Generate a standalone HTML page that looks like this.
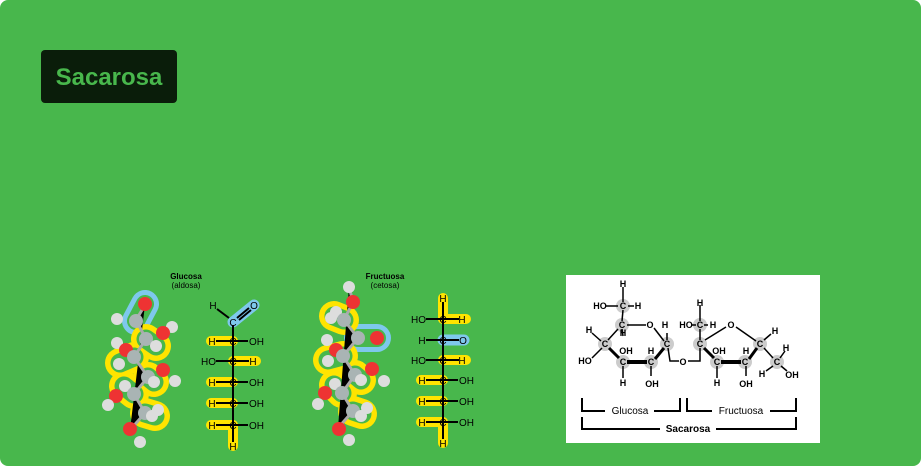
<!DOCTYPE html>
<html><head><meta charset="utf-8"><style>
html,body{margin:0;padding:0;background:#fff;}
body{width:921px;height:466px;overflow:hidden;font-family:"Liberation Sans",sans-serif;}
</style></head><body>
<svg width="921" height="466" viewBox="0 0 921 466" xmlns="http://www.w3.org/2000/svg" font-family="Liberation Sans, sans-serif">
<rect x="0" y="0" width="921" height="466" rx="8" fill="#48b74c"/>
<rect x="41" y="50" width="136" height="53" rx="4" fill="#0a1d0a"/>
<text x="109" y="85" text-anchor="middle" font-size="24" font-weight="bold" fill="#48b74c">Sacarosa</text>

<text x="186" y="279" text-anchor="middle" font-size="8" font-weight="bold" fill="#000">Glucosa</text>
<text x="186" y="288" text-anchor="middle" font-size="8" fill="#000">(aldosa)</text>
<text x="385" y="279" text-anchor="middle" font-size="8" font-weight="bold" fill="#000">Fructuosa</text>
<text x="385" y="288" text-anchor="middle" font-size="8" fill="#000">(cetosa)</text>

<!-- Glucose ball-stick -->
<g>
<g fill="none" stroke-linecap="round">
<line x1="145" y1="304" x2="136" y2="321" stroke="#7ec8ec" stroke-width="28"/>
<line x1="145" y1="304" x2="136" y2="321" stroke="#48b74c" stroke-width="18"/>
<g stroke="#ffe400" stroke-width="30">
<line x1="146" y1="339" x2="156" y2="346"/><line x1="134" y1="357" x2="120" y2="363"/>
<line x1="148" y1="377" x2="154" y2="382"/><line x1="134" y1="394" x2="124" y2="386"/>
<line x1="145" y1="413" x2="155" y2="416"/>
</g>
<g stroke="#48b74c" stroke-width="19">
<line x1="146" y1="339" x2="156" y2="346"/><line x1="134" y1="357" x2="120" y2="363"/>
<line x1="148" y1="377" x2="154" y2="382"/><line x1="134" y1="394" x2="124" y2="386"/>
<line x1="145" y1="413" x2="155" y2="416"/>
</g>
</g>
<g stroke="#aaa" stroke-width="3"><path d="M145 305 L136 320 L146 339 L134 357 L148 377 L134 394 L145 413 L130 430"/></g>
<circle cx="117" cy="319" r="6" fill="#ddd"/>
<circle cx="145" cy="304" r="7" fill="#ee3333"/>
<circle cx="136" cy="321" r="7" fill="#a9b4b4"/>
<circle cx="172" cy="327" r="6" fill="#ddd"/><circle cx="163" cy="333" r="7" fill="#ee3333"/>
<circle cx="117" cy="343" r="6" fill="#ddd"/><circle cx="126" cy="350" r="7" fill="#ee3333"/>
<circle cx="146" cy="339" r="7" fill="#a9b4b4"/><circle cx="156" cy="346" r="6" fill="#ddd"/>
<circle cx="134" cy="357" r="7" fill="#a9b4b4"/><circle cx="119" cy="364" r="6" fill="#ddd"/>
<circle cx="163" cy="370" r="7" fill="#ee3333"/><circle cx="175" cy="381" r="6" fill="#ddd"/>
<circle cx="148" cy="377" r="7" fill="#a9b4b4"/><circle cx="154" cy="382" r="6" fill="#ddd"/>
<circle cx="125" cy="386" r="6" fill="#ddd"/><circle cx="134" cy="394" r="7" fill="#a9b4b4"/>
<circle cx="116" cy="396" r="7" fill="#ee3333"/><circle cx="108" cy="405" r="6" fill="#ddd"/>
<circle cx="158" cy="410" r="6" fill="#ddd"/><circle cx="145" cy="413" r="7" fill="#a9b4b4"/><circle cx="152" cy="416" r="6" fill="#ddd"/>
<circle cx="130" cy="429" r="7" fill="#ee3333"/><circle cx="140" cy="442" r="6" fill="#ddd"/>
</g>

<!-- Fructose ball-stick -->
<g>
<g fill="none" stroke-linecap="round">
<line x1="358" y1="338" x2="377" y2="338" stroke="#7ec8ec" stroke-width="28"/>
<line x1="358" y1="338" x2="377" y2="338" stroke="#48b74c" stroke-width="18"/>
<g stroke="#ffe400" stroke-width="30">
<line x1="344" y1="320" x2="334" y2="316"/><line x1="343" y1="356" x2="328" y2="360"/>
<line x1="355" y1="375" x2="361" y2="380"/><line x1="342" y1="393" x2="334" y2="385"/>
<line x1="353" y1="411" x2="362" y2="414"/>
</g>
<g stroke="#48b74c" stroke-width="19">
<line x1="344" y1="320" x2="334" y2="316"/><line x1="343" y1="356" x2="328" y2="360"/>
<line x1="355" y1="375" x2="361" y2="380"/><line x1="342" y1="393" x2="334" y2="385"/>
<line x1="353" y1="411" x2="362" y2="414"/>
</g>
</g>
<g stroke="#aaa" stroke-width="3"><path d="M349 287 L353 302 L344 320 L358 338 L343 356 L355 375 L342 393 L353 411 L338 428"/></g>
<circle cx="349" cy="287" r="6" fill="#ddd"/><circle cx="353" cy="302" r="7" fill="#ee3333"/>
<circle cx="336" cy="312" r="6" fill="#ddd"/><circle cx="331" cy="318" r="6" fill="#ddd"/>
<circle cx="344" cy="320" r="7" fill="#a9b4b4"/>
<circle cx="358" cy="338" r="7" fill="#a9b4b4"/><circle cx="377" cy="338" r="7" fill="#ee3333"/>
<circle cx="327" cy="340" r="6" fill="#ddd"/><circle cx="336" cy="350" r="7" fill="#ee3333"/>
<circle cx="343" cy="356" r="7" fill="#a9b4b4"/><circle cx="328" cy="361" r="6" fill="#ddd"/>
<circle cx="372" cy="369" r="7" fill="#ee3333"/><circle cx="384" cy="381" r="6" fill="#ddd"/>
<circle cx="355" cy="375" r="7" fill="#a9b4b4"/><circle cx="361" cy="380" r="6" fill="#ddd"/>
<circle cx="335" cy="384" r="6" fill="#ddd"/><circle cx="342" cy="393" r="7" fill="#a9b4b4"/>
<circle cx="325" cy="393" r="7" fill="#ee3333"/><circle cx="318" cy="404" r="6" fill="#ddd"/>
<circle cx="367" cy="408" r="6" fill="#ddd"/><circle cx="353" cy="411" r="7" fill="#a9b4b4"/><circle cx="361" cy="416" r="6" fill="#ddd"/>
<circle cx="339" cy="429" r="7" fill="#ee3333"/><circle cx="349" cy="440" r="6" fill="#ddd"/>
</g>

<!-- Glucose Fischer -->
<g font-size="10" fill="#000">
<line x1="233" y1="322" x2="254" y2="305" stroke="#7ec8ec" stroke-width="11" stroke-linecap="round"/>
<g stroke="#ffe400" stroke-width="10" stroke-linecap="round">
<line x1="211" y1="341" x2="233" y2="341"/>
<line x1="233" y1="361" x2="256" y2="361"/>
<line x1="211" y1="382" x2="233" y2="382"/>
<line x1="211" y1="403" x2="233" y2="403"/>
<line x1="211" y1="425" x2="233" y2="425"/>
<line x1="233" y1="425" x2="233" y2="446"/>
</g>
<g stroke="#000" stroke-width="2">
<line x1="233" y1="325" x2="233" y2="442"/>
<line x1="217" y1="309" x2="229" y2="318"/>
<line x1="237" y1="318" x2="249" y2="308"/><line x1="239" y1="320" x2="251" y2="310"/>
<line x1="216" y1="341" x2="248" y2="341"/>
<line x1="216" y1="361" x2="249" y2="361"/>
<line x1="216" y1="382" x2="248" y2="382"/>
<line x1="216" y1="403" x2="248" y2="403"/>
<line x1="216" y1="425" x2="248" y2="425"/>
</g>
<text x="213" y="309" text-anchor="middle">H</text>
<text x="254" y="309" text-anchor="middle">O</text>
<text x="233" y="326" text-anchor="middle">C</text>
<text x="212" y="345" text-anchor="middle">H</text><text x="233" y="345" text-anchor="middle">C</text><text x="249" y="345">OH</text>
<text x="216" y="365" text-anchor="end">HO</text><text x="233" y="365" text-anchor="middle">C</text><text x="253" y="365" text-anchor="middle">H</text>
<text x="212" y="386" text-anchor="middle">H</text><text x="233" y="386" text-anchor="middle">C</text><text x="249" y="386">OH</text>
<text x="212" y="407" text-anchor="middle">H</text><text x="233" y="407" text-anchor="middle">C</text><text x="249" y="407">OH</text>
<text x="212" y="429" text-anchor="middle">H</text><text x="233" y="429" text-anchor="middle">C</text><text x="249" y="429">OH</text>
<text x="233" y="450" text-anchor="middle">H</text>
</g>

<!-- Fructose Fischer -->
<g font-size="10" fill="#000">
<line x1="443" y1="340" x2="464" y2="340" stroke="#7ec8ec" stroke-width="11" stroke-linecap="round"/>
<g stroke="#ffe400" stroke-width="10" stroke-linecap="round">
<line x1="443" y1="298" x2="443" y2="319"/><line x1="443" y1="319" x2="466" y2="319"/>
<line x1="443" y1="360" x2="466" y2="360"/>
<line x1="421" y1="380" x2="443" y2="380"/>
<line x1="421" y1="401" x2="443" y2="401"/>
<line x1="421" y1="422" x2="443" y2="422"/>
<line x1="443" y1="422" x2="443" y2="443"/>
</g>
<g stroke="#000" stroke-width="2">
<line x1="443" y1="302" x2="443" y2="439"/>
<line x1="426" y1="319" x2="459" y2="319"/>
<line x1="426" y1="340" x2="459" y2="340"/>
<line x1="426" y1="360" x2="459" y2="360"/>
<line x1="426" y1="380" x2="458" y2="380"/>
<line x1="426" y1="401" x2="458" y2="401"/>
<line x1="426" y1="422" x2="458" y2="422"/>
</g>
<text x="443" y="302" text-anchor="middle">H</text>
<text x="426" y="323" text-anchor="end">HO</text><text x="443" y="323" text-anchor="middle">C</text><text x="462" y="323" text-anchor="middle">H</text>
<text x="422" y="344" text-anchor="middle">H</text><text x="443" y="344" text-anchor="middle">C</text><text x="463" y="344" text-anchor="middle">O</text>
<text x="426" y="364" text-anchor="end">HO</text><text x="443" y="364" text-anchor="middle">C</text><text x="462" y="364" text-anchor="middle">H</text>
<text x="422" y="384" text-anchor="middle">H</text><text x="443" y="384" text-anchor="middle">C</text><text x="459" y="384">OH</text>
<text x="422" y="405" text-anchor="middle">H</text><text x="443" y="405" text-anchor="middle">C</text><text x="459" y="405">OH</text>
<text x="422" y="426" text-anchor="middle">H</text><text x="443" y="426" text-anchor="middle">C</text><text x="459" y="426">OH</text>
<text x="443" y="447" text-anchor="middle">H</text>
</g>

<!-- Haworth sucrose -->
<rect x="566" y="275" width="254" height="168" fill="#fff"/>
<g fill="#ccc">
<circle cx="623" cy="306" r="7"/><circle cx="622" cy="325" r="7"/><circle cx="605" cy="344" r="7"/>
<circle cx="623" cy="362" r="7"/><circle cx="651" cy="362" r="7"/><circle cx="667" cy="344" r="7"/>
<circle cx="700" cy="325" r="7"/><circle cx="700" cy="344" r="7"/><circle cx="717" cy="362" r="7"/>
<circle cx="745" cy="362" r="7"/><circle cx="760" cy="344" r="7"/><circle cx="777" cy="362" r="7"/>
</g>
<g stroke="#000" stroke-width="1.5" fill="none">
<line x1="623" y1="287" x2="623" y2="302"/><line x1="606" y1="306" x2="618" y2="306"/><line x1="628" y1="306" x2="634" y2="306"/>
<line x1="623" y1="310" x2="622" y2="321"/>
<line x1="627" y1="325" x2="646" y2="325"/>
<line x1="654" y1="328" x2="664" y2="341"/>
<line x1="622" y1="329" x2="623" y2="336"/>
<line x1="618" y1="329" x2="608" y2="340"/>
<line x1="592" y1="333" x2="601" y2="341"/>
<line x1="602" y1="348" x2="592" y2="358"/>
<line x1="609" y1="348" x2="619" y2="358" stroke-width="3"/>
<line x1="627" y1="362" x2="647" y2="362" stroke-width="4"/>
<line x1="655" y1="359" x2="664" y2="348" stroke-width="3"/>
<line x1="623" y1="366" x2="623" y2="378"/><line x1="651" y1="366" x2="651" y2="376"/>
<line x1="667" y1="333" x2="667" y2="340"/>
<polyline points="668,348 670,361 679,361"/>
<polyline points="688,361 700,361 700,348"/>
<line x1="700" y1="305" x2="700" y2="321"/><line x1="691" y1="325" x2="696" y2="325"/><line x1="704" y1="325" x2="708" y2="325"/>
<line x1="700" y1="329" x2="700" y2="340"/>
<line x1="705" y1="340" x2="726" y2="327"/>
<line x1="736" y1="327" x2="756" y2="341"/>
<line x1="704" y1="348" x2="714" y2="358" stroke-width="3"/>
<line x1="721" y1="362" x2="741" y2="362" stroke-width="4"/>
<line x1="749" y1="359" x2="757" y2="348" stroke-width="3"/>
<line x1="717" y1="366" x2="717" y2="378"/><line x1="746" y1="366" x2="746" y2="376"/>
<line x1="764" y1="340" x2="771" y2="334"/>
<line x1="764" y1="348" x2="773" y2="358"/>
<line x1="780" y1="358" x2="785" y2="351"/>
<line x1="773" y1="366" x2="766" y2="371"/>
<line x1="781" y1="366" x2="787" y2="371"/>
<polyline points="582,398 582,411 605,411" stroke-width="2"/><polyline points="654,411 680,411 680,398" stroke-width="2"/>
<polyline points="687,398 687,411 712,411" stroke-width="2"/><polyline points="770,411 796,411 796,398" stroke-width="2"/>
<polyline points="582,417 582,429 660,429" stroke-width="2"/><polyline points="716,429 796,429 796,417" stroke-width="2"/>
</g>
<g font-size="9" font-weight="bold" fill="#000" text-anchor="middle">
<text x="623" y="287">H</text>
<text x="600" y="309">HO</text><text x="623" y="309">C</text><text x="638" y="309">H</text>
<text x="622" y="328">C</text><text x="650" y="328">O</text><text x="665" y="328">H</text>
<text x="589" y="333">H</text><text x="605" y="347">C</text><text x="585" y="364">HO</text>
<text x="623" y="336">H</text><text x="626" y="354">OH</text><text x="623" y="365">C</text><text x="623" y="386">H</text>
<text x="651" y="354">H</text><text x="651" y="365">C</text><text x="652" y="387">OH</text>
<text x="667" y="347">C</text><text x="683" y="365">O</text>
<text x="700" y="306">H</text>
<text x="686" y="328">HO</text><text x="700" y="328">C</text><text x="713" y="328">H</text>
<text x="700" y="347">C</text><text x="731" y="328">O</text>
<text x="719" y="354">OH</text><text x="717" y="365">C</text><text x="717" y="386">H</text>
<text x="746" y="354">H</text><text x="745" y="365">C</text><text x="746" y="387">OH</text>
<text x="760" y="347">C</text><text x="775" y="334">H</text>
<text x="777" y="365">C</text><text x="786" y="351">H</text><text x="762" y="377">H</text><text x="792" y="378">OH</text>
<text x="630" y="414" font-weight="normal" font-size="10">Glucosa</text>
<text x="741" y="414" font-weight="normal" font-size="10">Fructuosa</text>
<text x="688" y="432" font-size="10">Sacarosa</text>
</g>
</svg>
</body></html>
